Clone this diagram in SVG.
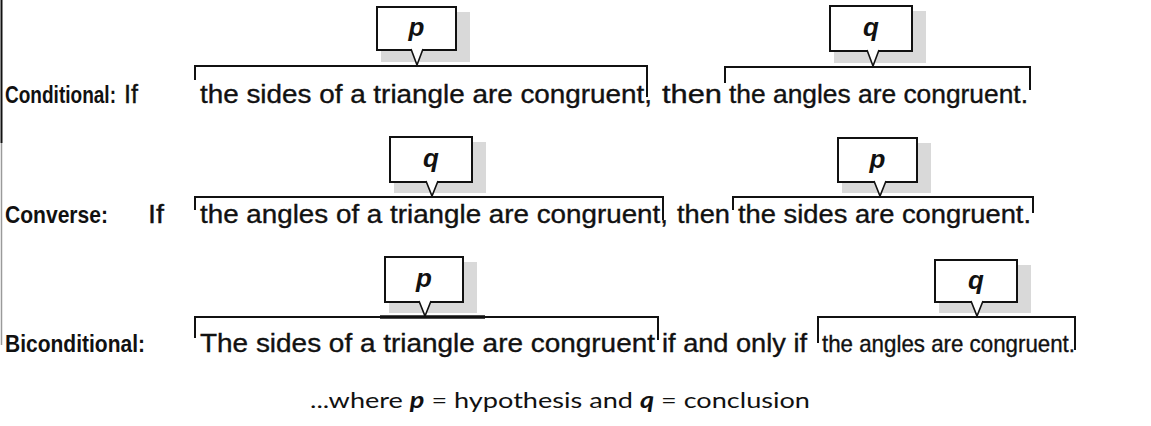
<svg xmlns="http://www.w3.org/2000/svg" width="1151" height="426" viewBox="0 0 1151 426">
<style>
  .lab{font-family:"Liberation Sans",Arial,sans-serif;font-weight:bold;font-size:24px;fill:#111;}
  .txt{font-family:"Liberation Sans",Arial,sans-serif;font-size:25px;fill:#111;stroke:#111;stroke-width:0.35;}
  .br{fill:none;stroke:#111;stroke-width:2;}
  .shadow{fill:#d9d9d9;}
  .box{fill:#fff;stroke:#111;stroke-width:2;}
  .ptr{fill:#fff;stroke:#111;stroke-width:1.6;stroke-linejoin:miter;}
  .pq{font-family:"Liberation Sans",Arial,sans-serif;font-weight:bold;font-style:italic;font-size:26px;fill:#111;text-anchor:middle;}
  .foot{font-family:Lato,"Open Sans",sans-serif;font-size:22px;fill:#111;}
  .fb{font-weight:bold;font-style:italic;}
</style>
<rect width="1151" height="426" fill="#fff"/>
<g id="border">
  <line x1="1.5" y1="0" x2="1.5" y2="143" stroke="#111" stroke-width="2"/>
  <line x1="1.5" y1="143" x2="1.5" y2="345" stroke="#9a9a9a" stroke-width="1.5"/>
</g>

<!-- Row 1: Conditional -->
<g id="row1-text">
  <text class="lab" x="5" y="103"><tspan textLength="111" lengthAdjust="spacingAndGlyphs">Conditional:</tspan><tspan class="txt" x="124" textLength="14" lengthAdjust="spacingAndGlyphs" style="font-weight:normal">If</tspan></text>
  <text class="txt" x="200" y="103" textLength="452" lengthAdjust="spacingAndGlyphs">the sides of a triangle are congruent,</text>
  <text class="txt" x="662" y="103" textLength="60" lengthAdjust="spacingAndGlyphs">then</text>
  <text class="txt" x="729" y="103" textLength="299" lengthAdjust="spacingAndGlyphs">the angles are congruent.</text>
</g>
<!-- Row 2: Converse -->
<g id="row2-text">
  <text class="lab" x="5" y="223" textLength="103" lengthAdjust="spacingAndGlyphs">Converse:</text>
  <text class="txt" x="148" y="223" textLength="16" lengthAdjust="spacingAndGlyphs">If</text>
  <text class="txt" x="200" y="223" textLength="468" lengthAdjust="spacingAndGlyphs">the angles of a triangle are congruent,</text>
  <text class="txt" x="677" y="223" textLength="53" lengthAdjust="spacingAndGlyphs">then</text>
  <text class="txt" x="738" y="223" textLength="293" lengthAdjust="spacingAndGlyphs">the sides are congruent.</text>
</g>
<!-- Row 3: Biconditional -->
<g id="row3-text">
  <text class="lab" x="5" y="352" textLength="140" lengthAdjust="spacingAndGlyphs">Biconditional:</text>
  <text class="txt" x="200" y="352" textLength="455" lengthAdjust="spacingAndGlyphs">The sides of a triangle are congruent</text>
  <text class="txt" x="662" y="352" textLength="145" lengthAdjust="spacingAndGlyphs">if and only if</text>
  <text class="txt" x="822" y="352" textLength="253" lengthAdjust="spacingAndGlyphs" style="font-size:24px">the angles are congruent.</text>
</g>

<g id="connectors">
  <path class="br" d="M195,80 V66 H647 V97"/>
  <path class="br" d="M725,83 V67 H1030 V90"/>
  <path class="br" d="M195,210 V197 H663 V220"/>
  <path class="br" d="M733,210 V197 H1033 V213"/>
  <path class="br" d="M195,338 V317 H658 V340"/>
  <path class="br" d="M818,343 V317 H1075 V350"/>
  <line x1="380" y1="317" x2="485" y2="317" stroke="#111" stroke-width="3.5"/>
</g>

<g id="callout-r1-p">
  <rect class="shadow" x="381" y="12" width="89" height="50"/>
  <rect class="box" x="377" y="7" width="79" height="43"/>
  <path class="ptr" d="M411,49 L417,65 L423,49"/>
  <text class="pq" x="416.5" y="36">p</text>
</g>
<g id="callout-r1-q">
  <rect class="shadow" x="834" y="11" width="92" height="52"/>
  <rect class="box" x="830" y="6" width="82" height="45"/>
  <path class="ptr" d="M867,50 L873,66 L879,50"/>
  <text class="pq" x="871" y="36">q</text>
</g>
<g id="callout-r2-q">
  <rect class="shadow" x="394" y="142" width="92" height="51"/>
  <rect class="box" x="390" y="137" width="82" height="45"/>
  <path class="ptr" d="M426,181 L432,196 L438,181"/>
  <text class="pq" x="431" y="167">q</text>
</g>
<g id="callout-r2-p">
  <rect class="shadow" x="842" y="143" width="89" height="50"/>
  <rect class="box" x="838" y="138" width="79" height="44"/>
  <path class="ptr" d="M874,181 L880,196 L886,181"/>
  <text class="pq" x="877.5" y="168">p</text>
</g>
<g id="callout-r3-p">
  <rect class="shadow" x="389" y="262" width="88" height="51"/>
  <rect class="box" x="385" y="257" width="78" height="45"/>
  <path class="ptr" d="M419,301 L425,316 L431,301"/>
  <text class="pq" x="424" y="287">p</text>
</g>
<g id="callout-r3-q">
  <rect class="shadow" x="939" y="265" width="92" height="48"/>
  <rect class="box" x="935" y="260" width="82" height="42"/>
  <path class="ptr" d="M971,301 L977,316 L983,301"/>
  <text class="pq" x="976" y="289">q</text>
</g>

<g id="footer">
  <text class="foot" x="310" y="408" textLength="500" lengthAdjust="spacingAndGlyphs">...where <tspan class="fb">p</tspan> = hypothesis and <tspan class="fb">q</tspan> = conclusion</text>
</g>
</svg>
